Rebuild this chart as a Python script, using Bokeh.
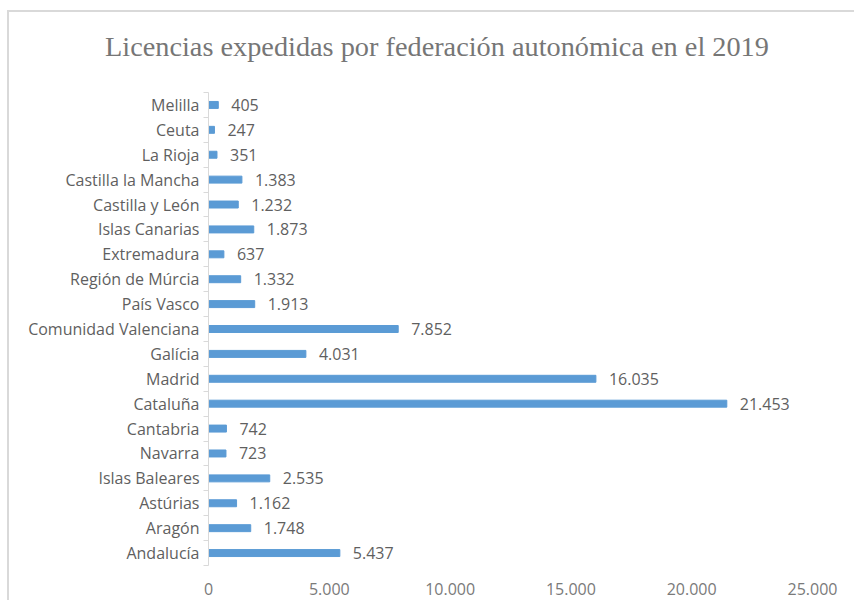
from bokeh.plotting import figure
from bokeh.models import ColumnDataSource, FixedTicker, Div
from bokeh.layouts import column
from bokeh.core.properties import value
from bokeh.embed import file_html
from bokeh.resources import INLINE

# Data (bottom to top)
regions = ["Andalucía", "Aragón", "Astúrias", "Islas Baleares", "Navarra", "Cantabria",
           "Cataluña", "Madrid", "Galícia", "Comunidad Valenciana", "País Vasco",
           "Región de Múrcia", "Extremadura", "Islas Canarias", "Castilla y León",
           "Castilla la Mancha", "La Rioja", "Ceuta", "Melilla"]
licencias = [5437, 1748, 1162, 2535, 723, 742, 21453, 16035, 4031, 7852, 1913,
             1332, 637, 1873, 1232, 1383, 351, 247, 405]
x_ticks = [0, 5000, 10000, 15000, 20000, 25000]
x_tick_labels = ["0", "5.000", "10.000", "15.000", "20.000", "25.000"]
title_text = "Licencias expedidas por federación autonómica en el 2019"

TEXT = "#5f5f5f"
FONT = "Open Sans"
W = 845

pos = list(range(len(regions)))
labels = [f"{v:,}".replace(",", ".") for v in licencias]
src = ColumnDataSource(dict(y=pos, v=licencias, lab=labels))

title_div = Div(
    text=('<div style="padding-left:96px;padding-top:18px;font-family:\'Liberation Serif\';'
          'font-size:28.3px;line-height:34px;color:#767676;white-space:nowrap;">'
          + title_text + '</div>'),
    width=W, height=50, margin=0)

p = figure(width=W, height=538, output_backend="svg", toolbar_location=None,
           x_range=(0, 25000), y_range=(-0.5, len(regions) - 0.5),
           min_border_left=199, min_border_right=42, min_border_top=30,
           min_border_bottom=35)
p.margin = 0
p.outline_line_color = None
p.grid.grid_line_color = None
p.background_fill_color = "white"

p.hbar(y="y", right="v", left=0, height=0.28, color="#5b9bd5", source=src)
p.text(x="v", y="y", text="lab", source=src, x_offset=13, text_align="left",
       text_baseline="middle", text_font=value(FONT), text_font_size="16px",
       text_color=TEXT)

# y axis
yax = p.yaxis[0]
yax.ticker = FixedTicker(ticks=pos, minor_ticks=[i - 0.5 for i in range(len(regions) + 1)])
yax.major_label_overrides = {i: r for i, r in enumerate(regions)}
yax.major_tick_line_color = None
yax.major_tick_out = 0
yax.major_tick_in = 0
yax.minor_tick_out = 5
yax.minor_tick_in = 0
yax.minor_tick_line_color = "#d9d9d9"
yax.axis_line_color = "#d9d9d9"
yax.major_label_standoff = 4
yax.major_label_text_font = FONT
yax.major_label_text_font_size = "16px"
yax.major_label_text_color = TEXT

# x axis
xax = p.xaxis[0]
xax.ticker = FixedTicker(ticks=x_ticks)
xax.major_label_overrides = {t: l for t, l in zip(x_ticks, x_tick_labels)}
xax.axis_line_color = None
xax.major_tick_line_color = None
xax.minor_tick_line_color = None
xax.major_tick_out = 0
xax.major_label_standoff = 17
xax.major_label_text_font = FONT
xax.major_label_text_font_size = "16px"
xax.major_label_text_color = "#7a7a7a"

layout = column(title_div, p, spacing=0)
layout.styles = {"border-top": "2px solid #d9d9d9", "border-left": "2px solid #d9d9d9",
                 "margin-top": "10px", "margin-left": "7px", "background": "white"}

open("out.html", "w").write(file_html(layout, INLINE))
